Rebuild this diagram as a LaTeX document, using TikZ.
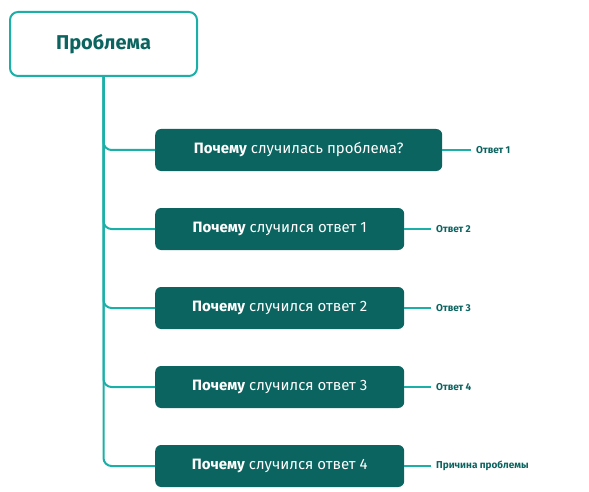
\documentclass[tikz,border=0pt]{standalone}
\usepackage{fontspec}
\setmainfont{Fira Sans}
\definecolor{tl}{HTML}{1AB0A8}
\definecolor{dk}{HTML}{0B6460}
\begin{document}
\begin{tikzpicture}[x=1pt,y=-1pt,
 q/.style={fill=dk,rounded corners=6pt,minimum height=42pt,text=white,font=\fontsize{15}{18}\selectfont,anchor=west,inner xsep=16pt},
 ln/.style={draw=tl,line width=2pt},
 lab/.style={text=dk,font=\fontsize{10}{12}\selectfont\bfseries,anchor=west,inner sep=0pt}]
\useasboundingbox (0,0) rectangle (589,492);
\node[draw=tl,line width=2pt,fill=white,rounded corners=8pt,minimum width=187pt,minimum height=64pt,text=dk,font=\fontsize{20}{24}\selectfont\bfseries] (root) at (103.5,44) {Проблема};
\node[q,minimum width=287pt] (b1) at (155,150) {\textbf{Почему} случилась проблема?};
\node[q,minimum width=249pt] (b2) at (155,229) {\textbf{Почему} случился ответ 1};
\node[q,minimum width=249pt] (b3) at (155,308) {\textbf{Почему} случился ответ 2};
\node[q,minimum width=249pt] (b4) at (155,387) {\textbf{Почему} случился ответ 3};
\node[q,minimum width=249pt] (b5) at (155,466) {\textbf{Почему} случился ответ 4};
\node[lab] (a1) at (476,150) {Ответ 1};
\node[lab] (a2) at (436,229) {Ответ 2};
\node[lab] (a3) at (436,308) {Ответ 3};
\node[lab] (a4) at (436,387) {Ответ 4};
\node[lab] (a5) at (436,466) {Причина проблемы};
\foreach \i in {1,...,5}{
 \draw[ln,rounded corners=8pt] (root.south) |- (b\i.west);
 \draw[ln] (b\i.east) -- ([xshift=-5pt]a\i.west);
}
\end{tikzpicture}
\end{document}
